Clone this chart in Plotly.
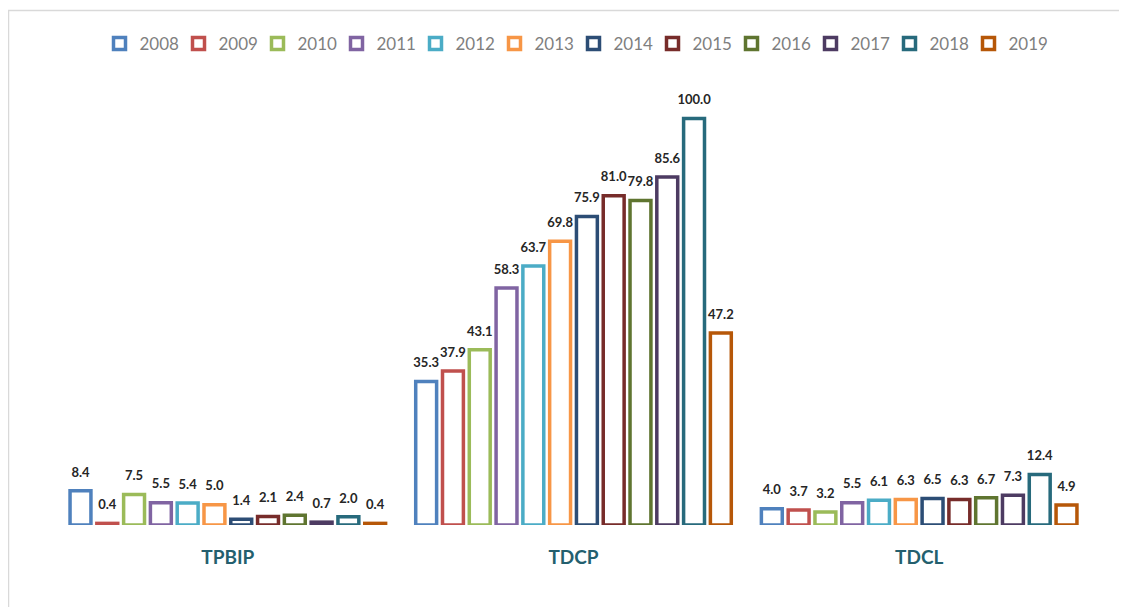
import plotly.graph_objects as go

categories = ["TPBIP", "TDCP", "TDCL"]
years = ["2008", "2009", "2010", "2011", "2012", "2013",
         "2014", "2015", "2016", "2017", "2018", "2019"]
tpbip = [8.4, 0.4, 7.5, 5.5, 5.4, 5.0, 1.4, 2.1, 2.4, 0.7, 2.0, 0.4]
tdcp = [35.3, 37.9, 43.1, 58.3, 63.7, 69.8, 75.9, 81.0, 79.8, 85.6, 100.0, 47.2]
tdcl = [4.0, 3.7, 3.2, 5.5, 6.1, 6.3, 6.5, 6.3, 6.7, 7.3, 12.4, 4.9]
colors = ["#4F81BD", "#C0504D", "#9BBB59", "#8064A2", "#4BACC6", "#F79646",
          "#2C4D75", "#772C2A", "#5F7530", "#4D3B62", "#276A7C", "#B65708"]

fig = go.Figure()
for i, yr in enumerate(years):
    vals = [tpbip[i], tdcp[i], tdcl[i]]
    fig.add_trace(go.Bar(
        name=yr, x=categories, y=vals, legendgroup=yr,
        offsetgroup=yr, alignmentgroup="a",
        marker=dict(color="white", line=dict(color=colors[i], width=3.5)),
        hoverinfo="skip",
    ))
for i, yr in enumerate(years):
    vals = [tpbip[i], tdcp[i], tdcl[i]]
    fig.add_trace(go.Scatter(
        x=categories, y=vals, legendgroup=yr, showlegend=False,
        offsetgroup=yr, alignmentgroup="a",
        mode="markers+text", marker=dict(size=16, opacity=0),
        text=[f"{v:.1f}" for v in vals], textposition="top center",
        textfont=dict(family="Lato", size=13, color="#262626", weight="bold"),
        cliponaxis=False, hoverinfo="skip",
    ))

W, H = 1119, 599
L, T, R, B = 47, 82, 35, 82
pw, ph = W - L - R, H - T - B

def px_x(x):
    return (x - L) / pw

def px_y(y):
    return (H - B - y) / ph

fig.update_layout(
    width=W, height=H,
    margin=dict(l=L, r=R, t=T, b=B),
    paper_bgcolor="white", plot_bgcolor="white",
    barmode="group", bargap=0.07, bargroupgap=0.22,
    scattermode="group", scattergap=0.07,
    font=dict(family="Lato"),
    legend=dict(orientation="h", x=0.5, xanchor="center", y=px_y(36), yanchor="middle",
                font=dict(family="Lato", size=17, color="#7F7F7F"),
                itemwidth=30, traceorder="normal", entrywidth=34),
    xaxis=dict(showline=False, showgrid=False, zeroline=False,
               ticks="outside", ticklen=15, tickcolor="rgba(0,0,0,0)",
               tickfont=dict(family="Lato", size=19, color="#245F6E", weight="bold")),
    yaxis=dict(visible=False, range=[0, 107]),
    shapes=[
        dict(type="line", xref="paper", yref="paper", x0=px_x(0), x1=px_x(W),
             y0=px_y(2.5), y1=px_y(2.5), line=dict(color="#D9D9D9", width=1.5)),
        dict(type="line", xref="paper", yref="paper", x0=px_x(0.5), x1=px_x(0.5),
             y0=px_y(2.5), y1=px_y(H), line=dict(color="#D9D9D9", width=1.5)),
    ],
)

fig.write_html("out.html")
